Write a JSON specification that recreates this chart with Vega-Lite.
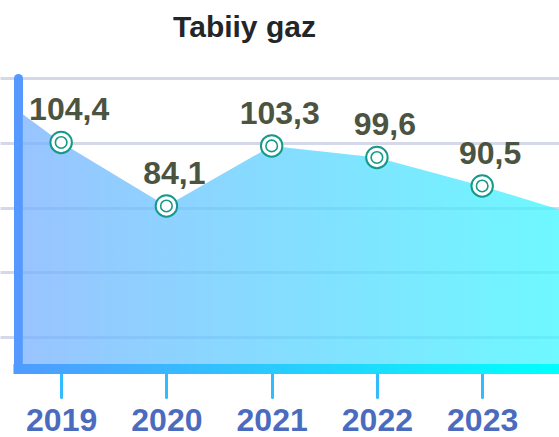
{
  "$schema": "https://vega.github.io/schema/vega-lite/v6.json",
  "width": 541,
  "height": 291,
  "autosize": {"type": "none"},
  "padding": {"left": 18, "top": 78, "right": 0, "bottom": 68},
  "background": "white",
  "config": {"view": {"stroke": null}},
  "title": {
    "text": "Tabiiy gaz",
    "font": "Liberation Sans",
    "fontSize": 30,
    "fontWeight": "bold",
    "color": "#232629",
    "anchor": "middle",
    "dx": -44,
    "offset": 34
  },
  "datasets": {
    "points": [
      {"year": 2019, "value": 104.4, "label": "104,4"},
      {"year": 2020, "value": 84.1, "label": "84,1"},
      {"year": 2021, "value": 103.3, "label": "103,3"},
      {"year": 2022, "value": 99.6, "label": "99,6"},
      {"year": 2023, "value": 90.5, "label": "90,5"}
    ],
    "area": [
      {"year": 2018.633, "value": 113.5},
      {"year": 2019, "value": 104.4},
      {"year": 2020, "value": 84.1},
      {"year": 2021, "value": 103.3},
      {"year": 2022, "value": 99.6},
      {"year": 2023, "value": 90.5},
      {"year": 2023.73, "value": 83}
    ],
    "frame": [
      {"x1": 2018.547, "x2": 2023.73, "y1": 30.4, "y2": 33.6}
    ]
  },
  "layer": [
    {
      "data": {"name": "area"},
      "mark": {
        "type": "area",
        "fillOpacity": 0.75,
        "fill": {
          "gradient": "linear",
          "x1": 0, "y1": 0, "x2": 1, "y2": 0,
          "stops": [
            {"offset": 0, "color": "#77b0ff"},
            {"offset": 1, "color": "#3ef6ff"}
          ]
        }
      },
      "encoding": {
        "x": {
          "field": "year",
          "type": "quantitative",
          "scale": {"domain": [2018.59, 2023.73], "nice": false, "zero": false},
          "axis": {
            "values": [2019, 2020, 2021, 2022, 2023],
            "format": "d",
            "title": null,
            "domain": false,
            "grid": false,
            "ticks": true,
            "tickSize": 28,
            "tickColor": "#33bbff",
            "tickWidth": 3,
            "tickCap": "round",
            "labelFont": "Liberation Sans",
            "labelFontSize": 32,
            "labelFontWeight": "bold",
            "labelColor": "#4b6bbf",
            "labelPadding": 8,
            "labelFlush": false,
            "labelOverlap": false
          }
        },
        "y": {
          "field": "value",
          "type": "quantitative",
          "scale": {"domain": [32, 125], "nice": false, "zero": false},
          "axis": {
            "values": [42.2, 63, 83.5, 104.2, 125],
            "labels": false,
            "title": null,
            "grid": true,
            "gridColor": "#d5d8e8",
            "gridWidth": 3,
            "ticks": true,
            "tickSize": 18,
            "tickColor": "#d5d8e8",
            "tickWidth": 3,
            "domain": true,
            "domainColor": "#5599ff",
            "domainWidth": 9,
            "domainCap": "round"
          }
        },
        "y2": {"datum": 32}
      }
    },
    {
      "data": {"name": "frame"},
      "mark": {
        "type": "rect",
        "clip": false,
        "fill": {
          "gradient": "linear",
          "x1": 0, "y1": 0, "x2": 1, "y2": 0,
          "stops": [
            {"offset": 0, "color": "#4f9bff"},
            {"offset": 1, "color": "#00ffff"}
          ]
        }
      },
      "encoding": {
        "x": {"field": "x1", "type": "quantitative"},
        "x2": {"field": "x2"},
        "y": {"field": "y1", "type": "quantitative"},
        "y2": {"field": "y2"}
      }
    },
    {
      "data": {"name": "points"},
      "mark": {"type": "point", "shape": "circle", "size": 460, "filled": false, "fill": "white", "fillOpacity": 1, "stroke": "#14998a", "strokeWidth": 2, "opacity": 1},
      "encoding": {
        "x": {"field": "year", "type": "quantitative"},
        "y": {"field": "value", "type": "quantitative"}
      }
    },
    {
      "data": {"name": "points"},
      "mark": {"type": "point", "shape": "circle", "size": 132, "filled": false, "fill": "white", "fillOpacity": 1, "stroke": "#14998a", "strokeWidth": 1.6, "opacity": 1},
      "encoding": {
        "x": {"field": "year", "type": "quantitative"},
        "y": {"field": "value", "type": "quantitative"}
      }
    },
    {
      "data": {"name": "points"},
      "mark": {
        "type": "text",
        "font": "Liberation Sans",
        "fontSize": 32,
        "fontWeight": "bold",
        "color": "#4b5441",
        "align": "center",
        "baseline": "alphabetic",
        "dx": 8,
        "dy": -22
      },
      "encoding": {
        "x": {"field": "year", "type": "quantitative"},
        "y": {"field": "value", "type": "quantitative"},
        "text": {"field": "label"}
      }
    }
  ]
}
